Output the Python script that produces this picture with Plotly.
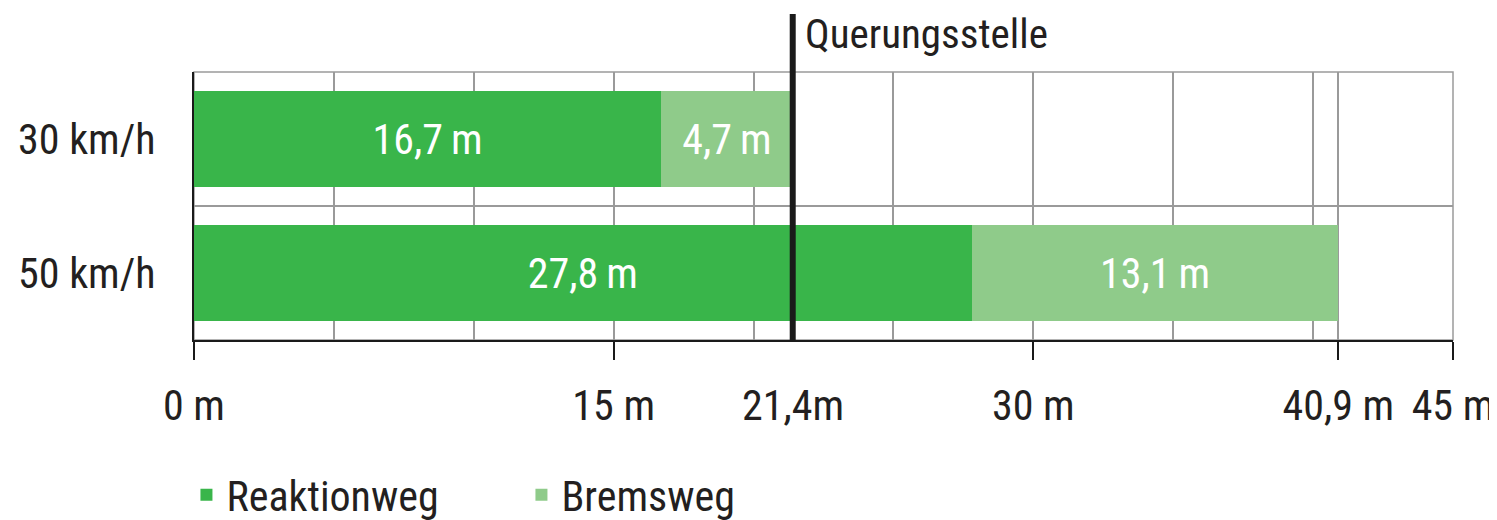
import plotly.graph_objects as go

categories = ["30 km/h", "50 km/h"]
reaktionsweg = [16.7, 27.8]
bremsweg = [4.7, 13.1]
crossing_point = 21.4
tick_values = [0, 15, 30, 40.9, 45]
tick_labels = ["0 m", "15 m", "30 m", "40,9 m", "45 m"]
crossing_label = "21,4m"

FONT = "Liberation Sans Narrow, Roboto Condensed, DejaVu Sans Condensed, sans-serif"
TXT = "#231F20"
DARK = "#39B54A"
LIGHT = "#8FCB8A"
GRID = "#9A9A9A"


def fmt(v):
    return f"{v:.1f}".replace(".", ",") + "\u2009m"


fig = go.Figure()
fig.add_trace(go.Bar(
    y=categories, x=reaktionsweg, orientation="h", name="Reaktionweg",
    marker=dict(color=DARK, line=dict(width=0)),
    text=[fmt(v) for v in reaktionsweg], textposition="inside",
    insidetextanchor="middle", constraintext="none",
    textfont=dict(color="white", size=42, family=FONT),
))
fig.add_trace(go.Bar(
    y=categories, x=bremsweg, orientation="h", name="Bremsweg",
    marker=dict(color=LIGHT, line=dict(width=0)),
    text=[fmt(v) for v in bremsweg], textposition="inside",
    insidetextanchor="middle", constraintext="none",
    textfont=dict(color="white", size=42, family=FONT),
))

# grey frame (top / right border)
fig.add_shape(type="rect", xref="paper", yref="paper", x0=0, x1=1, y0=0, y1=1,
              line=dict(color=GRID, width=1.5), layer="below")
fig.add_shape(type="line", xref="x", yref="paper",
              x0=crossing_point, x1=crossing_point, y0=0, y1=1.216,
              line=dict(color="#1A1A1A", width=6), layer="above")
fig.add_annotation(x=crossing_point, xref="x", y=1.142, yref="paper",
                   text="Querungsstelle", showarrow=False, xanchor="left",
                   yanchor="middle", xshift=10,
                   font=dict(size=41, family=FONT, color=TXT))
fig.add_annotation(x=crossing_point, xref="x", y=-0.245, yref="paper",
                   text=crossing_label, showarrow=False, xanchor="center",
                   yanchor="middle",
                   font=dict(size=42, family=FONT, color=TXT))

# page body has an 8px margin -> shrink figure accordingly
fig.update_layout(
    width=1489, height=512,
    margin=dict(l=186, r=44, t=64, b=180, autoexpand=False),
    paper_bgcolor="white", plot_bgcolor="white",
    barmode="stack", bargap=0.284,
    font=dict(family=FONT, size=42, color=TXT),
    showlegend=True,
    legend=dict(orientation="h", x=-0.006, xanchor="left", y=-0.578,
                yanchor="middle", font=dict(size=42, family=FONT, color=TXT),
                entrywidth=290, traceorder="normal"),
    xaxis=dict(range=[0, 45], showline=True, linecolor="#1A1A1A", linewidth=2,
               automargin=False,
               tickmode="array", tickvals=tick_values, ticktext=tick_labels,
               ticks="outside", ticklen=18, tickwidth=2, tickcolor="#1A1A1A",
               showgrid=True, gridcolor=GRID, gridwidth=1.5, zeroline=False,
               ticklabelstandoff=10,
               minor=dict(dtick=5, tick0=0, showgrid=True, gridcolor=GRID,
                          gridwidth=1.5, ticks="")),
    yaxis=dict(categoryorder="array", categoryarray=categories,
               range=[1.5, -0.5], tickson="boundaries", ticks="",
               automargin=False,
               showgrid=True, gridcolor=GRID, gridwidth=1.5,
               showline=True, linecolor="#1A1A1A", linewidth=2,
               ticklabelstandoff=28, zeroline=False),
)

fig.write_html("out.html")
